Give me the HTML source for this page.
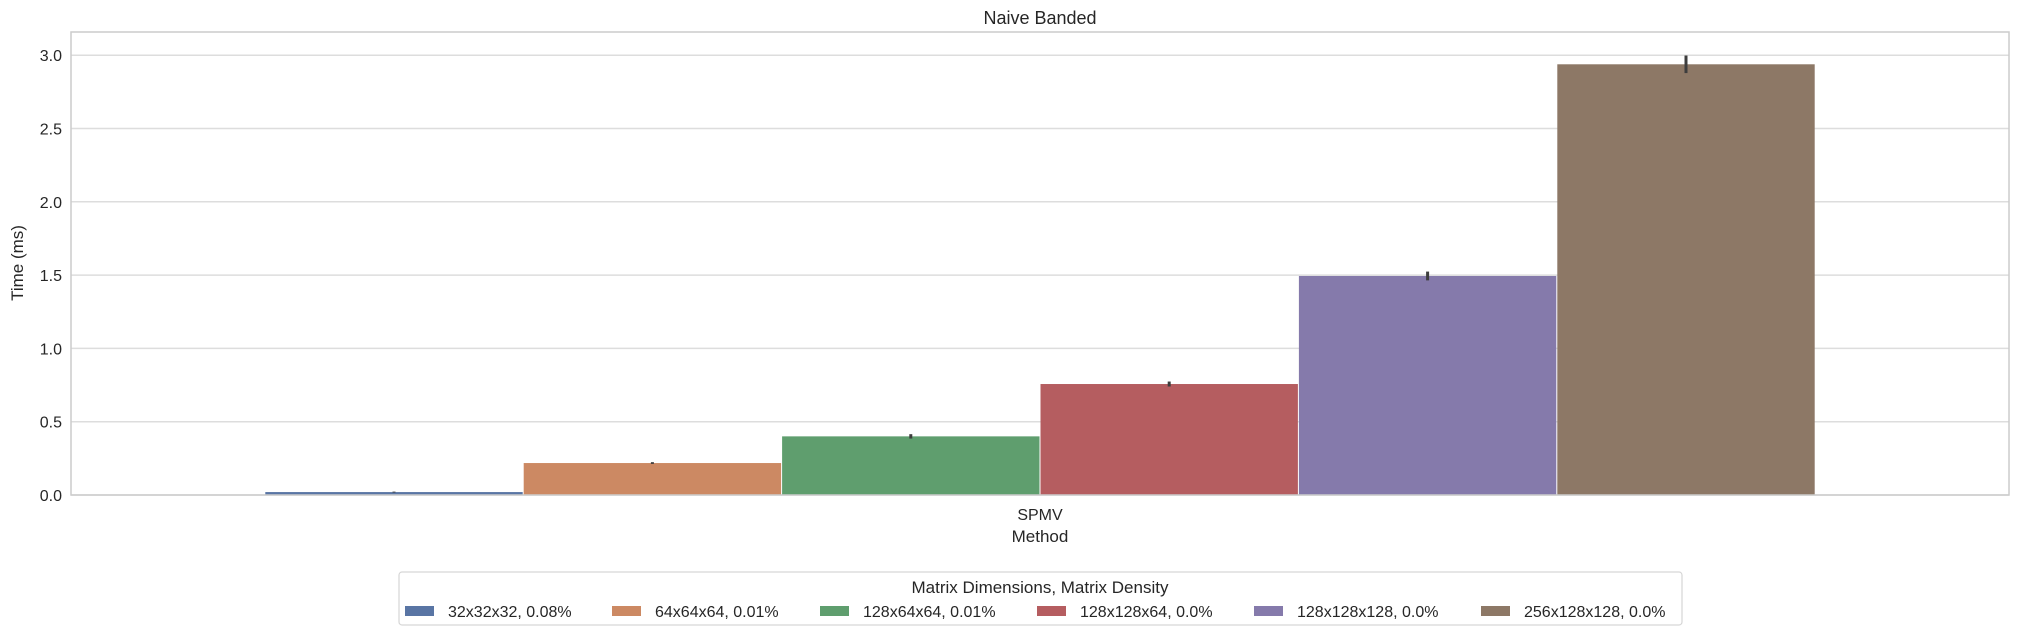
<!DOCTYPE html>
<html><head><meta charset="utf-8"><style>
html,body{margin:0;padding:0;background:#fff}
svg text{font-family:"Liberation Sans","DejaVu Sans",sans-serif;fill:#262626}
</style></head><body>
<svg id="chart" width="2018" height="635" xmlns="http://www.w3.org/2000/svg">
<text x="1040" y="24" font-size="18" text-anchor="middle">Naive Banded</text>
<g id="grid"></g>
<g id="bars"></g>
<rect x="71" y="32" width="1938" height="463" fill="none" stroke="#cccccc" stroke-width="1.5"/>
<g id="yticks"></g>
<text x="1040" y="520" font-size="16" text-anchor="middle">SPMV</text>
<text x="1040" y="542" font-size="17" text-anchor="middle">Method</text>
<text transform="translate(23,263) rotate(-90)" font-size="17" text-anchor="middle">Time (ms)</text>
<g id="legend">
<rect x="399" y="572" width="1283" height="53" rx="3" fill="#fff" stroke="#d6d6d6" stroke-width="1.2"/>
<text x="1040" y="593" font-size="17" text-anchor="middle">Matrix Dimensions, Matrix Density</text>
</g>
</svg>
<script>
const categories = ["32x32x32, 0.08%","64x64x64, 0.01%","128x64x64, 0.01%","128x128x64, 0.0%","128x128x128, 0.0%","256x128x128, 0.0%"];
const values = [0.02, 0.218, 0.40, 0.757, 1.494, 2.938];
const errors = [0.003, 0.006, 0.015, 0.017, 0.03, 0.06];
const yTicks = [0.0, 0.5, 1.0, 1.5, 2.0, 2.5, 3.0];
const colors = ["#5975a4","#cc8963","#5f9e6e","#b55d60","#857aab","#8d7866"];
const legendX = [405, 612, 820, 1037, 1254, 1481];

const NS="http://www.w3.org/2000/svg";
const X0=71, X1=2009, Y0=495, PPU=146.6;
const y = v => Y0 - v*PPU;
const groupW = (X1-X0)*0.8, barW = groupW/categories.length;
const gx = (X0+X1)/2 - groupW/2;
const x = i => gx + i*barW;
function mk(tag, attrs, parent){const e=document.createElementNS(NS,tag);for(const k in attrs)e.setAttribute(k,attrs[k]);parent.appendChild(e);return e;}
const grid=document.getElementById('grid'), yt=document.getElementById('yticks'), bars=document.getElementById('bars'), leg=document.getElementById('legend');
yTicks.forEach(t=>{
  const l=mk('line',{x1:X0,x2:X1,y1:y(t),y2:y(t),stroke:'#dddddd','stroke-width':1.5},grid);
  
  
  const tx=mk('text',{x:62,y:y(t)+6,'font-size':16,'text-anchor':'end'},yt);
  tx.textContent=t.toFixed(1);
  
  
});
values.forEach((v,i)=>{
  const r=mk('rect',{x:x(i)+0.5,y:y(v),width:barW-1,height:Y0-y(v),fill:colors[i]},bars);
  
  
  const e=mk('line',{x1:x(i)+barW/2,x2:x(i)+barW/2,y1:y(v+errors[i]),y2:y(v-errors[i]),stroke:'#3d3d3d','stroke-width':3},bars);
  
  
});
categories.forEach((c,i)=>{
  const g=mk('g',{},leg);
  
  
  mk('rect',{x:legendX[i],y:606,width:29,height:10,fill:colors[i]},g);
  const t=mk('text',{x:legendX[i]+43,y:617,'font-size':16},g);
  t.textContent=c;
});
</script>
</body></html>
